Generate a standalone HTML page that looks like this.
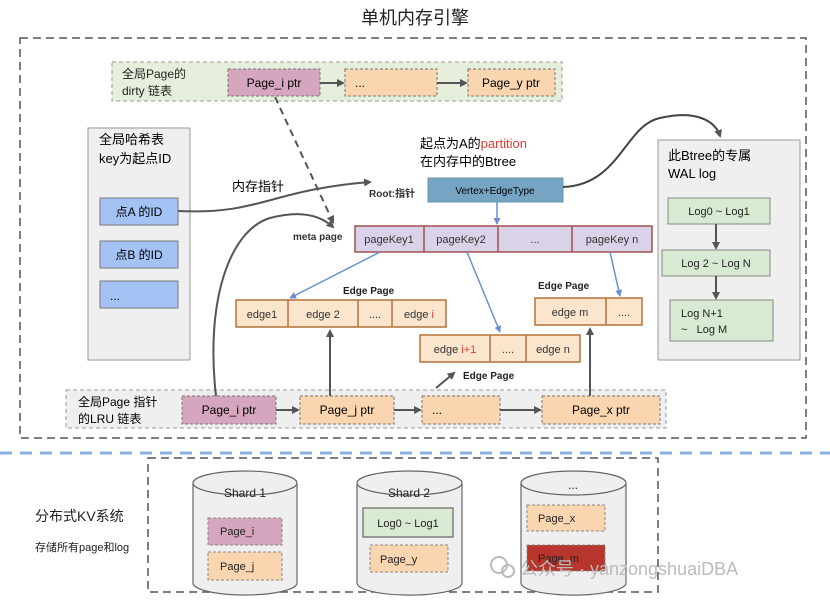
<!DOCTYPE html>
<html><head><meta charset="utf-8"><style>
html,body{margin:0;padding:0;background:#fff;}
svg{display:block;font-family:"Liberation Sans","Noto Sans CJK SC",sans-serif;}
</style></head><body>
<svg width="830" height="601" viewBox="0 0 830 601" xmlns="http://www.w3.org/2000/svg">
<defs>
<marker id="ag" markerWidth="8" markerHeight="8" refX="6" refY="4" orient="auto" markerUnits="userSpaceOnUse"><path d="M0,0 L8,4 L0,8 z" fill="#555"/></marker>
<marker id="ab" markerWidth="7" markerHeight="7" refX="6" refY="3.5" orient="auto" markerUnits="userSpaceOnUse"><path d="M0,0 L7,3.5 L0,7 z" fill="#6d8fcf"/></marker>
</defs>
<text x="415" y="24" font-size="18" text-anchor="middle" fill="#222">单机内存引擎</text>
<rect x="20" y="38" width="786" height="400" fill="none" stroke="#555" stroke-width="1.5" stroke-dasharray="8,5"/>
<line x1="0" y1="453" x2="830" y2="453" stroke="#8fb0dc" stroke-width="3" stroke-dasharray="12,8"/>
<rect x="148" y="458" width="510" height="134" fill="none" stroke="#555" stroke-width="1.5" stroke-dasharray="8,5"/>

<rect x="112" y="62" width="450" height="39" fill="#e6efdc" stroke="#999" stroke-dasharray="4,3"/>
<text x="122" y="78" font-size="12" fill="#222">全局Page的</text>
<text x="122" y="95" font-size="12" fill="#222">dirty 链表</text>
<rect x="228" y="69" width="92" height="27" fill="#d5a6bd" stroke="#777" stroke-dasharray="3,2"/>
<text x="274" y="87" font-size="12" text-anchor="middle">Page_i ptr</text>
<line x1="320" y1="83" x2="343" y2="83" stroke="#555" stroke-width="2" marker-end="url(#ag)"/>
<rect x="345" y="69" width="92" height="27" fill="#f9d5b0" stroke="#777" stroke-dasharray="3,2"/>
<text x="355" y="87" font-size="12">...</text>
<line x1="437" y1="83" x2="466" y2="83" stroke="#555" stroke-width="2" marker-end="url(#ag)"/>
<rect x="468" y="69" width="87" height="27" fill="#f9d5b0" stroke="#777" stroke-dasharray="3,2"/>
<text x="511" y="87" font-size="12" text-anchor="middle">Page_y ptr</text>

<rect x="88" y="128" width="102" height="232" fill="#efefef" stroke="#999"/>
<text x="99" y="144" font-size="13">全局哈希表</text>
<text x="99" y="163" font-size="13">key为起点ID</text>
<rect x="100" y="198" width="78" height="27" fill="#a4c2f4" stroke="#777"/>
<text x="139" y="216" font-size="12" text-anchor="middle">点A 的ID</text>
<rect x="100" y="241" width="78" height="27" fill="#a4c2f4" stroke="#777"/>
<text x="139" y="259" font-size="12" text-anchor="middle">点B 的ID</text>
<rect x="100" y="281" width="78" height="27" fill="#a4c2f4" stroke="#777"/>
<text x="110" y="300" font-size="12">...</text>

<text x="232" y="191" font-size="13">内存指针</text>
<path d="M178,211 C260,215 270,190 370,182" fill="none" stroke="#555" stroke-width="2" marker-end="url(#ag)"/>
<text x="369" y="197" font-size="10" font-weight="bold" fill="#333">Root:指针</text>
<text x="420" y="148" font-size="13">起点为A的<tspan fill="#e03c31">partition</tspan></text>
<text x="420" y="166" font-size="13">在内存中的Btree</text>
<rect x="428" y="178" width="135" height="24" fill="#76a5c3" stroke="#6a95b0"/>
<text x="495" y="194" font-size="10" text-anchor="middle">Vertex+EdgeType</text>
<path d="M563,187 C620,185 625,125 660,118 C695,110 715,120 720,136" fill="none" stroke="#444" stroke-width="2" marker-end="url(#ag)"/>
<line x1="497" y1="202" x2="497" y2="224" stroke="#6d8fcf" stroke-width="1.5" marker-end="url(#ab)"/>

<line x1="275" y1="97" x2="333" y2="222" stroke="#555" stroke-width="2" stroke-dasharray="7,5" marker-end="url(#ag)"/>
<text x="293" y="240" font-size="10" font-weight="bold" fill="#333">meta page</text>

<rect x="355" y="226" width="297" height="26" fill="#d9d2e9" stroke="#a0524f" stroke-width="1.5"/>
<line x1="424" y1="226" x2="424" y2="252" stroke="#a0524f" stroke-width="1.5"/>
<line x1="498" y1="226" x2="498" y2="252" stroke="#a0524f" stroke-width="1.5"/>
<line x1="572" y1="226" x2="572" y2="252" stroke="#a0524f" stroke-width="1.5"/>
<g font-size="11" text-anchor="middle" fill="#333">
<text x="389" y="243">pageKey1</text><text x="461" y="243">pageKey2</text><text x="535" y="243">...</text><text x="612" y="243">pageKey n</text>
</g>
<line x1="380" y1="252" x2="290" y2="298" stroke="#6d8fcf" stroke-width="1.5" marker-end="url(#ab)"/>
<line x1="467" y1="252" x2="500" y2="332" stroke="#6d8fcf" stroke-width="1.5" marker-end="url(#ab)"/>
<line x1="610" y1="252" x2="620" y2="296" stroke="#6d8fcf" stroke-width="1.5" marker-end="url(#ab)"/>

<g font-size="10" font-weight="bold" fill="#222">
<text x="343" y="294">Edge Page</text>
<text x="538" y="289">Edge Page</text>
<text x="463" y="379">Edge Page</text>
</g>
<g stroke="#b8713a" stroke-width="1.5" fill="#fce5cd">
<rect x="236" y="300" width="210" height="27"/>
<rect x="420" y="335" width="160" height="27"/>
<rect x="535" y="298" width="107" height="27"/>
<line x1="288" y1="300" x2="288" y2="327"/><line x1="358" y1="300" x2="358" y2="327"/><line x1="392" y1="300" x2="392" y2="327"/>
<line x1="490" y1="335" x2="490" y2="362"/><line x1="526" y1="335" x2="526" y2="362"/>
<line x1="606" y1="298" x2="606" y2="325"/>
</g>
<g font-size="11" text-anchor="middle" fill="#333">
<text x="262" y="318">edge1</text><text x="323" y="318">edge 2</text><text x="375" y="318">....</text><text x="419" y="318">edge <tspan fill="#e03c31">i</tspan></text>
<text x="455" y="353">edge <tspan fill="#e03c31">i+1</tspan></text><text x="508" y="353">....</text><text x="553" y="353">edge n</text>
<text x="570" y="316">edge m</text><text x="624" y="316">....</text>
</g>

<rect x="658" y="140" width="142" height="220" fill="#efefef" stroke="#999"/>
<text x="668" y="160" font-size="13">此Btree的专属</text>
<text x="668" y="178" font-size="13">WAL log</text>
<g fill="#d9ead3" stroke="#888">
<rect x="668" y="198" width="102" height="26"/>
<rect x="662" y="250" width="108" height="26"/>
<rect x="670" y="300" width="103" height="41"/>
</g>
<g font-size="11" fill="#222">
<text x="719" y="215" text-anchor="middle">Log0 ~ Log1</text>
<text x="716" y="267" text-anchor="middle">Log 2 ~ Log N</text>
<text x="681" y="317">Log N+1</text>
<text x="681" y="333">~&#160;&#160;&#160;Log M</text>
</g>
<line x1="716" y1="224" x2="716" y2="248" stroke="#555" stroke-width="2" marker-end="url(#ag)"/>
<line x1="716" y1="276" x2="716" y2="298" stroke="#555" stroke-width="2" marker-end="url(#ag)"/>

<rect x="66" y="390" width="600" height="38" fill="#efefef" stroke="#999" stroke-dasharray="4,3"/>
<text x="78" y="406" font-size="12">全局Page 指针</text>
<text x="78" y="423" font-size="12">的LRU 链表</text>
<rect x="182" y="396" width="94" height="28" fill="#d5a6bd" stroke="#777" stroke-dasharray="3,2"/>
<text x="229" y="414" font-size="12" text-anchor="middle">Page_i ptr</text>
<line x1="276" y1="410" x2="298" y2="410" stroke="#555" stroke-width="2" marker-end="url(#ag)"/>
<rect x="300" y="396" width="94" height="28" fill="#f9d5b0" stroke="#777" stroke-dasharray="3,2"/>
<text x="347" y="414" font-size="12" text-anchor="middle">Page_j ptr</text>
<line x1="394" y1="410" x2="420" y2="410" stroke="#555" stroke-width="2" marker-end="url(#ag)"/>
<rect x="422" y="396" width="78" height="28" fill="#f9d5b0" stroke="#777" stroke-dasharray="3,2"/>
<text x="432" y="414" font-size="12">...</text>
<line x1="500" y1="410" x2="540" y2="410" stroke="#555" stroke-width="2" marker-end="url(#ag)"/>
<rect x="542" y="396" width="118" height="28" fill="#f9d5b0" stroke="#777" stroke-dasharray="3,2"/>
<text x="601" y="414" font-size="12" text-anchor="middle">Page_x ptr</text>

<line x1="330" y1="396" x2="330" y2="331" stroke="#555" stroke-width="2" marker-end="url(#ag)"/>
<line x1="590" y1="396" x2="590" y2="329" stroke="#555" stroke-width="2" marker-end="url(#ag)"/>
<line x1="436" y1="388" x2="454" y2="373" stroke="#555" stroke-width="2" marker-end="url(#ag)"/>
<path d="M216,396 C205,300 230,230 270,218 C300,210 320,215 333,227" fill="none" stroke="#555" stroke-width="2" marker-end="url(#ag)"/>

<text x="35" y="521" font-size="14" fill="#222">分布式KV系统</text>
<text x="35" y="551" font-size="11" fill="#222">存储所有page和log</text>
<g fill="#efefef" stroke="#666" stroke-width="1.2">
<path d="M193,483 V583 A52,12 0 0 0 297,583 V483"/><ellipse cx="245" cy="483" rx="52" ry="12"/>
<path d="M357,483 V583 A52,12 0 0 0 462,583 V483"/><ellipse cx="409.5" cy="483" rx="52.5" ry="12"/>
<path d="M521,483 V583 A52,12 0 0 0 626,583 V483"/><ellipse cx="573.5" cy="483" rx="52.5" ry="12"/>
</g>
<g font-size="12" fill="#222" text-anchor="middle">
<text x="245" y="497">Shard 1</text><text x="409" y="497">Shard 2</text><text x="573" y="489">...</text>
</g>
<g stroke="#888" stroke-dasharray="3,2">
<rect x="208" y="518" width="74" height="27" fill="#d5a6bd"/>
<rect x="208" y="552" width="74" height="28" fill="#f9d5b0"/>
<rect x="370" y="545" width="78" height="27" fill="#f9d5b0"/>
<rect x="527" y="505" width="78" height="26" fill="#f9d5b0"/>
<rect x="527" y="545" width="78" height="26" fill="#b7352a"/>
</g>
<rect x="363" y="508" width="90" height="29" fill="#d9ead3" stroke="#666" stroke-width="1.2"/>
<g font-size="11" fill="#222">
<text x="220" y="535">Page_i</text><text x="220" y="570">Page_j</text>
<text x="408" y="527" text-anchor="middle">Log0 ~ Log1</text>
<text x="380" y="563">Page_y</text>
<text x="538" y="522">Page_x</text><text x="538" y="562">Page_m</text>
</g>
<circle cx="499" cy="565" r="8" fill="none" stroke="#bbb" stroke-width="2"/>
<circle cx="508" cy="571" r="6" fill="none" stroke="#bbb" stroke-width="2"/>
<text x="520" y="575" font-size="18" fill="#bbb">公众号 · yanzongshuaiDBA</text>
</svg>
</body></html>
